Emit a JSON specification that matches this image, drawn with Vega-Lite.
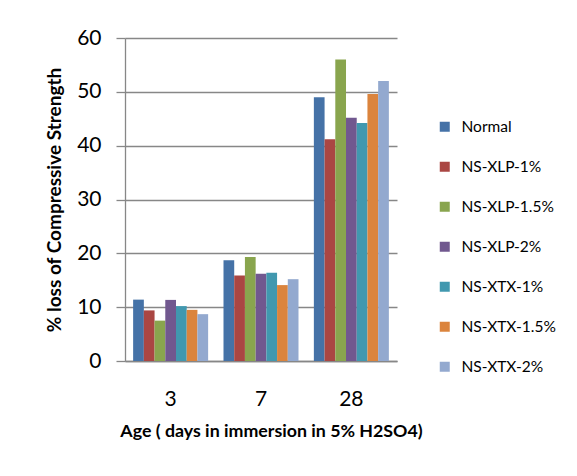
{
  "$schema": "https://vega.github.io/schema/vega-lite/v6.json",
  "width": 272,
  "height": 323,
  "autosize": {"type": "none"},
  "padding": {"left": 125, "top": 38, "right": 180, "bottom": 115},
  "background": "white",
  "data": {
    "values": [
      {"age": "3", "series": "Normal", "loss": 11.4},
      {"age": "3", "series": "NS-XLP-1%", "loss": 9.4},
      {"age": "3", "series": "NS-XLP-1.5%", "loss": 7.5},
      {"age": "3", "series": "NS-XLP-2%", "loss": 11.35},
      {"age": "3", "series": "NS-XTX-1%", "loss": 10.2},
      {"age": "3", "series": "NS-XTX-1.5%", "loss": 9.5},
      {"age": "3", "series": "NS-XTX-2%", "loss": 8.7},
      {"age": "7", "series": "Normal", "loss": 18.7},
      {"age": "7", "series": "NS-XLP-1%", "loss": 15.9},
      {"age": "7", "series": "NS-XLP-1.5%", "loss": 19.3},
      {"age": "7", "series": "NS-XLP-2%", "loss": 16.2},
      {"age": "7", "series": "NS-XTX-1%", "loss": 16.4},
      {"age": "7", "series": "NS-XTX-1.5%", "loss": 14.1},
      {"age": "7", "series": "NS-XTX-2%", "loss": 15.2},
      {"age": "28", "series": "Normal", "loss": 49.0},
      {"age": "28", "series": "NS-XLP-1%", "loss": 41.2},
      {"age": "28", "series": "NS-XLP-1.5%", "loss": 56.0},
      {"age": "28", "series": "NS-XLP-2%", "loss": 45.2},
      {"age": "28", "series": "NS-XTX-1%", "loss": 44.2},
      {"age": "28", "series": "NS-XTX-1.5%", "loss": 49.6},
      {"age": "28", "series": "NS-XTX-2%", "loss": 52.0}
    ]
  },
  "mark": {"type": "bar"},
  "encoding": {
    "x": {
      "field": "age",
      "type": "nominal",
      "sort": ["3", "7", "28"],
      "scale": {"paddingInner": 0.17, "paddingOuter": 0.09},
      "axis": {
        "title": "Age ( days in immersion in 5% H2SO4)",
        "labelAngle": 0,
        "labelFont": "Lato",
        "labelFontSize": 21,
        "labelColor": "#000000",
        "labelPadding": 27,
        "ticks": false,
        "domainColor": "#878787",
        "domainWidth": 1.3,
        "titleFont": "Lato",
        "titleFontSize": 17.8,
        "titleFontWeight": "bold",
        "titleColor": "#000000",
        "titlePadding": 13,
        "titleX": 146
      }
    },
    "xOffset": {
      "field": "series",
      "type": "nominal",
      "sort": ["Normal", "NS-XLP-1%", "NS-XLP-1.5%", "NS-XLP-2%", "NS-XTX-1%", "NS-XTX-1.5%", "NS-XTX-2%"],
      "scale": {"paddingInner": 0, "paddingOuter": 0}
    },
    "y": {
      "field": "loss",
      "type": "quantitative",
      "scale": {"domain": [0, 60]},
      "axis": {
        "title": "% loss of Compressive Strength",
        "values": [0, 10, 20, 30, 40, 50, 60],
        "labelFont": "Lato",
        "labelFontSize": 21,
        "labelColor": "#000000",
        "labelPadding": 15,
        "tickSize": 9,
        "tickColor": "#878787",
        "tickWidth": 1.3,
        "domainColor": "#878787",
        "domainWidth": 1.3,
        "grid": true,
        "gridColor": "#878787",
        "gridWidth": 1.3,
        "titleFont": "Lato",
        "titleFontSize": 19,
        "titleFontWeight": "bold",
        "titleColor": "#000000",
        "titlePadding": 12
      }
    },
    "color": {
      "field": "series",
      "type": "nominal",
      "sort": ["Normal", "NS-XLP-1%", "NS-XLP-1.5%", "NS-XLP-2%", "NS-XTX-1%", "NS-XTX-1.5%", "NS-XTX-2%"],
      "scale": {
        "domain": ["Normal", "NS-XLP-1%", "NS-XLP-1.5%", "NS-XLP-2%", "NS-XTX-1%", "NS-XTX-1.5%", "NS-XTX-2%"],
        "range": ["#4572A7", "#AA4643", "#89A54E", "#71588F", "#4198AF", "#DB843D", "#93A9CF"]
      },
      "legend": {
        "title": null,
        "orient": "none",
        "legendX": 312,
        "legendY": 81,
        "symbolType": "square",
        "symbolSize": 100,
        "symbolStrokeWidth": 0,
        "labelFont": "Lato",
        "labelFontSize": 15.5,
        "labelColor": "#000000",
        "labelOffset": 9,
        "rowPadding": 23,
        "padding": 0
      }
    }
  },
  "config": {
    "view": {"stroke": null}
  }
}
